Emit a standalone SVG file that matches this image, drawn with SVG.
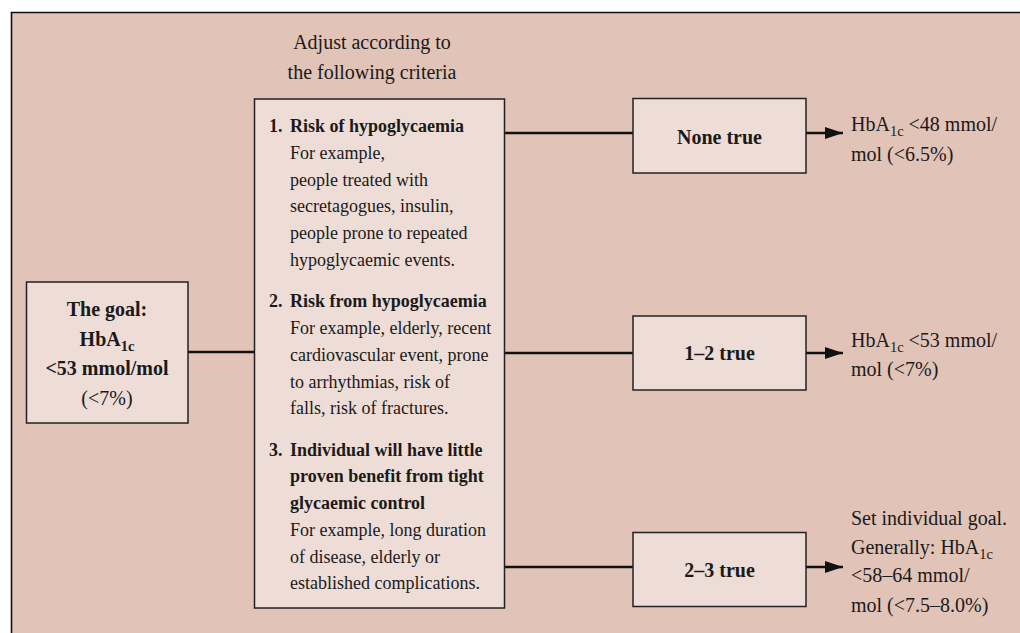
<svg xmlns="http://www.w3.org/2000/svg" width="1020" height="633" viewBox="0 0 1020 633">
<style>
text{font-family:"Liberation Serif","Times New Roman",serif;fill:#1a1a1a}
.t20{font-size:20px}
.t18{font-size:18px}
.b{font-weight:bold}
.box{fill:#eeddd6;stroke:#222;stroke-width:1.5}
.sub{font-size:14.5px}
.conn line{stroke:#111;stroke-width:2.4}
.frame{stroke:#111;stroke-width:1.6}
</style>
<defs>
<marker id="arr" markerUnits="userSpaceOnUse" markerWidth="18" markerHeight="12" refX="18" refY="6" orient="auto">
<path d="M0,0 L18,6 L0,12 z" fill="#111"/>
</marker>
</defs>
<rect x="0" y="0" width="1020" height="633" fill="#ffffff"/>
<rect x="11.5" y="12.5" width="1010" height="625" fill="#e2c3b7"/>
<line class="frame" x1="10.7" y1="12.5" x2="1020" y2="12.5"/>
<line class="frame" x1="11.5" y1="12.5" x2="11.5" y2="633"/>

<g id="header">
<text class="t20" x="372" y="49" text-anchor="middle">Adjust according to</text>
<text class="t20" x="372" y="79" text-anchor="middle">the following criteria</text>
</g>

<g class="conn" id="connectors">
<line x1="188" y1="352" x2="254" y2="352"/>
<line x1="504" y1="133" x2="633" y2="133"/>
<line x1="504" y1="353" x2="633" y2="353"/>
<line x1="504" y1="567" x2="633" y2="567"/>
<line x1="806" y1="133" x2="843" y2="133" marker-end="url(#arr)"/>
<line x1="806" y1="353" x2="843" y2="353" marker-end="url(#arr)"/>
<line x1="806" y1="567" x2="843" y2="567" marker-end="url(#arr)"/>
</g>

<g id="goal">
<rect class="box" x="26.5" y="282" width="161.5" height="141"/>
<text class="t20 b" x="107" y="316" text-anchor="middle">The goal:</text>
<text class="t20 b" x="107" y="346" text-anchor="middle">HbA<tspan class="sub" dy="5">1c</tspan></text>
<text class="t20 b" x="107" y="375" text-anchor="middle">&lt;53 mmol/mol</text>
<text class="t20" x="107" y="405" text-anchor="middle">(&lt;7%)</text>
</g>

<g id="criteria">
<rect class="box" x="254.5" y="99" width="250" height="509"/>
<text class="t18 b" x="269" y="132">1.</text>
<text class="t18 b" x="290" y="132">Risk of hypoglycaemia</text>
<text class="t18" x="290" y="159">For example,</text>
<text class="t18" x="290" y="186">people treated with</text>
<text class="t18" x="290" y="212">secretagogues, insulin,</text>
<text class="t18" x="290" y="239">people prone to repeated</text>
<text class="t18" x="290" y="266">hypoglycaemic events.</text>
<text class="t18 b" x="269" y="307">2.</text>
<text class="t18 b" x="290" y="307">Risk from hypoglycaemia</text>
<text class="t18" x="290" y="334">For example, elderly, recent</text>
<text class="t18" x="290" y="361">cardiovascular event, prone</text>
<text class="t18" x="290" y="388">to arrhythmias, risk of</text>
<text class="t18" x="290" y="414">falls, risk of fractures.</text>
<text class="t18 b" x="269" y="456">3.</text>
<text class="t18 b" x="290" y="456">Individual will have little</text>
<text class="t18 b" x="290" y="482">proven benefit from tight</text>
<text class="t18 b" x="290" y="509">glycaemic control</text>
<text class="t18" x="290" y="536">For example, long duration</text>
<text class="t18" x="290" y="563">of disease, elderly or</text>
<text class="t18" x="290" y="589">established complications.</text>
</g>

<g id="none-true">
<rect class="box" x="633" y="98.5" width="173" height="74.5"/>
<text class="t20 b" x="719.5" y="144" text-anchor="middle">None true</text>
</g>
<g id="one-two-true">
<rect class="box" x="633" y="316" width="173" height="74"/>
<text class="t20 b" x="719.5" y="360" text-anchor="middle">1–2 true</text>
</g>
<g id="two-three-true">
<rect class="box" x="633" y="532.5" width="173" height="74"/>
<text class="t20 b" x="719.5" y="577" text-anchor="middle">2–3 true</text>
</g>

<g id="result-none">
<text class="t20" x="851" y="131">HbA<tspan class="sub" dy="5">1c</tspan><tspan dy="-5"> &lt;48 mmol/</tspan></text>
<text class="t20" x="851" y="161">mol (&lt;6.5%)</text>
</g>
<g id="result-one-two">
<text class="t20" x="851" y="347">HbA<tspan class="sub" dy="5">1c</tspan><tspan dy="-5"> &lt;53 mmol/</tspan></text>
<text class="t20" x="851" y="376">mol (&lt;7%)</text>
</g>
<g id="result-two-three">
<text class="t20" x="851" y="525">Set individual goal.</text>
<text class="t20" x="851" y="554">Generally: HbA<tspan class="sub" dy="5">1c</tspan></text>
<text class="t20" x="851" y="582">&lt;58–64 mmol/</text>
<text class="t20" x="851" y="612">mol (&lt;7.5–8.0%)</text>
</g>
</svg>
